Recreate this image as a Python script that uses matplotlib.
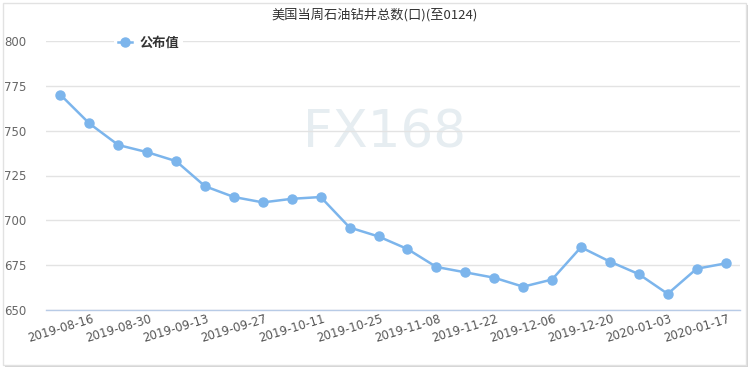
import matplotlib
matplotlib.use("Agg")
import matplotlib.pyplot as plt
from matplotlib.patches import Rectangle

plt.rcParams['font.family'] = ['DejaVu Sans', 'Noto Sans CJK SC']

title = "美国当周石油钻井总数(口)(至0124)"
series_name = "公布值"
dates = ["2019-08-16", "2019-08-23", "2019-08-30", "2019-09-06", "2019-09-13",
         "2019-09-20", "2019-09-27", "2019-10-04", "2019-10-11", "2019-10-18",
         "2019-10-25", "2019-11-01", "2019-11-08", "2019-11-15", "2019-11-22",
         "2019-11-29", "2019-12-06", "2019-12-13", "2019-12-20", "2019-12-27",
         "2020-01-03", "2020-01-10", "2020-01-17", "2020-01-24"]
values = [770, 754, 742, 738, 733, 719, 713, 710, 712, 713, 696, 691,
          684, 674, 671, 668, 663, 667, 685, 677, 670, 659, 673, 676]
yticks = [650, 675, 700, 725, 750, 775, 800]

fig = plt.figure(figsize=(7.5, 3.7), dpi=100)
W, H = 750, 370

# frame with a soft shadow on right/bottom
fig.patches.append(Rectangle((5 / W, 1 - 367 / H), 743 / W, 362 / H,
                             transform=fig.transFigure, facecolor='#d4d4d4',
                             edgecolor='none', zorder=-2))
fig.patches.append(Rectangle((3 / W, 1 - 365 / H), 743 / W, 362 / H,
                             transform=fig.transFigure, facecolor='white',
                             edgecolor='#e2e2e2', linewidth=1, zorder=-1))

# watermark
fig.text(385 / W, 1 - 133 / H, "FX168", fontsize=37, color='#e6edf1',
         ha='center', va='center', zorder=-0.5, family='DejaVu Sans')

ax = fig.add_axes([46 / W, 1 - 310 / H, 694 / W, 269 / H])
ax.set_zorder(1)
ax.set_facecolor('none')

x = list(range(len(dates)))
ax.plot(x, values, color='#7cb5ec', linewidth=1.8, marker='o', markersize=6.5,
        label=series_name, zorder=3)

ax.set_xlim(-0.5, len(dates) - 0.5)
ax.set_ylim(650, 800)
ax.set_yticks(yticks)
ax.set_yticklabels([str(v) for v in yticks], fontsize=8.5, color='#666666')
ax.yaxis.grid(True, color='#e3e3e3', linewidth=1, zorder=1)
ax.set_axisbelow(True)
ax.tick_params(axis='y', length=0, pad=14)

ax.set_xticks(x[::2])
ax.set_xticklabels(dates[::2], rotation=17, ha='center', va='top',
                   fontsize=8.5, color='#555555')
ax.tick_params(axis='x', length=0, pad=2)

for s in ['top', 'right', 'left']:
    ax.spines[s].set_visible(False)
ax.spines['bottom'].set_color('#b8cbe6')
ax.spines['bottom'].set_linewidth(1)

fig.text(375 / W, 1 - 15 / H, title, fontsize=9.5, color='#333333',
         ha='center', va='center', family=['Noto Sans CJK SC', 'DejaVu Sans'])

leg = ax.legend(loc='center left', bbox_to_anchor=(107 / W, 1 - 43 / H),
                bbox_transform=fig.transFigure, frameon=True, fancybox=False,
                handlelength=1.1, handletextpad=0.55, borderpad=0.3,
                prop={'family': 'Noto Sans CJK SC', 'weight': 'bold', 'size': 9.5})
leg.get_frame().set_facecolor('white')
leg.get_frame().set_edgecolor('none')
leg.get_frame().set_alpha(1)
for t in leg.get_texts():
    t.set_color('#333333')

fig.savefig("out.png", dpi=100)
